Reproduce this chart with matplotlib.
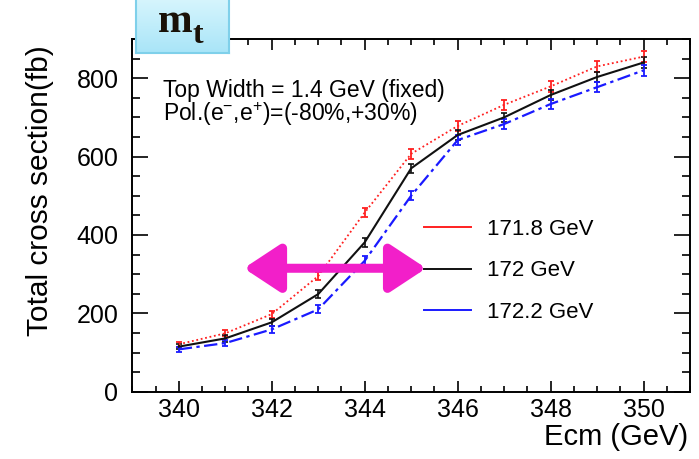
import matplotlib
matplotlib.use("Agg")
import matplotlib.pyplot as plt
import numpy as np
from matplotlib.lines import Line2D
from matplotlib.patches import FancyArrowPatch
from matplotlib.ticker import MultipleLocator
from matplotlib.colors import LinearSegmentedColormap

plt.rcParams["font.family"] = ["Liberation Sans", "DejaVu Sans"]
plt.rcParams["mathtext.fontset"] = "custom"
plt.rcParams["mathtext.rm"] = "Liberation Sans"
plt.rcParams["mathtext.it"] = "Liberation Sans:italic"
plt.rcParams["mathtext.bf"] = "Liberation Sans:bold"

# Centre-of-mass energy scan points (GeV)
ecm = [340, 341, 342, 343, 344, 345, 346, 347, 348, 349, 350]

# Total cross sections (fb) for three top-mass hypotheses
xs_1718 = [121, 149, 198, 295, 457, 607, 678, 732, 779, 830, 855]
xs_1720 = [115, 136, 177, 249, 381, 570, 655, 700, 757, 803, 840]
xs_1722 = [108, 124, 159, 210, 334, 500, 642, 683, 734, 777, 820]

# Statistical uncertainties (fb)
err_1718 = [7, 8, 9, 10, 11, 12, 12, 12, 13, 13, 14]
err_1720 = [7, 8, 9, 10, 11, 12, 12, 12, 13, 13, 14]
err_1722 = [7, 8, 9, 10, 11, 12, 12, 12, 13, 13, 14]

labels = ["171.8 GeV", "172 GeV", "172.2 GeV"]

W, H = 699, 459
fig = plt.figure(figsize=(W / 100, H / 100), dpi=100)
ax = fig.add_axes([132.3 / W, 1 - 391.7 / H, (690 - 132.3) / W, (391.7 - 39) / H])

ax.errorbar(ecm, xs_1718, yerr=err_1718, color="#ff2020", lw=1.3, ls=(0, (1, 1.5)),
            elinewidth=1.3, capsize=2, capthick=1.3)
ax.errorbar(ecm, xs_1720, yerr=err_1720, color="#111111", lw=1.5, ls="-",
            elinewidth=1.2, capsize=2, capthick=1.2)
ax.errorbar(ecm, xs_1722, yerr=err_1722, color="#1a1aff", lw=1.6, ls=(0, (6, 2, 1.5, 2)),
            elinewidth=1.3, capsize=2, capthick=1.3)

ax.set_xlim(339, 351)
ax.set_ylim(0, 900)
ax.xaxis.set_major_locator(MultipleLocator(2))
ax.xaxis.set_minor_locator(MultipleLocator(0.5))
ax.yaxis.set_major_locator(MultipleLocator(200))
ax.yaxis.set_minor_locator(MultipleLocator(50))

for s in ax.spines.values():
    s.set_linewidth(1.4)
ax.tick_params(axis="both", which="both", direction="in", top=True, right=True,
               width=1.2, labelsize=18)
ax.tick_params(axis="x", which="major", length=8, pad=4.5)
ax.tick_params(axis="x", which="minor", length=4.3)
ax.tick_params(axis="y", which="major", length=11.5, pad=10)
ax.tick_params(axis="y", which="minor", length=5.8)

ax.set_xlabel("Ecm (GeV)", fontsize=21, loc="right")
ax.xaxis.set_label_coords((688 - 132.3) / 557.7, -0.09)
ax.set_ylabel("Total cross section(fb)", fontsize=21.5, loc="top", va="baseline")
ax.yaxis.set_label_coords((48 - 132.3) / 557.7, (391.7 - 45) / 352.7)

fig.text(162.7 / W, 1 - 96.7 / H, "Top Width = 1.4 GeV (fixed)", fontsize=16.5,
         va="baseline", ha="left")
fig.text(162.7 / W, 1 - 120.7 / H, r"Pol.(e$^{-}$,e$^{+}$)=(-80%,+30%)", fontsize=16.5,
         va="baseline", ha="left")

handles = [Line2D([], [], color="#ff2020", lw=1.4),
           Line2D([], [], color="#111111", lw=1.4),
           Line2D([], [], color="#1a1aff", lw=1.4)]
ax.legend(handles, labels, loc="upper left", bbox_to_anchor=(424 / W, 1 - 219 / H),
          bbox_transform=fig.transFigure, frameon=False, fontsize=16,
          handlelength=2.1, handletextpad=0.75, labelspacing=0.92,
          borderpad=0, borderaxespad=0)

# Double-headed arrow marking the mass shift
arrow = FancyArrowPatch((0.195, 0.35), (0.532, 0.35), transform=ax.transAxes,
                        arrowstyle="<|-|>,head_length=2.2,head_width=1.45",
                        color="#f21fc9", lw=6.5, joinstyle="round", capstyle="round",
                        mutation_scale=10, zorder=5)
ax.add_patch(arrow)

# Title tag box with gradient fill
tag = fig.add_axes([136 / W, 1 - 52.7 / H, (229 - 136) / W, 54 / H])
grad = np.linspace(0, 1, 64).reshape(-1, 1)
cmap = LinearSegmentedColormap.from_list("tag", ["#d6f5fd", "#a9e5f8"])
tag.imshow(grad, aspect="auto", cmap=cmap, extent=(0, 1, 0, 1), origin="upper")
tag.set_xticks([])
tag.set_yticks([])
for s in tag.spines.values():
    s.set_color("#7fd0ea")
    s.set_linewidth(1.5)
fig.text(158 / W, 1 - 32 / H, "m", fontsize=30, fontweight="bold",
         family="Liberation Serif", va="baseline", ha="left", color="#1a1208")
fig.text(192.5 / W, 1 - 43 / H, "t", fontsize=23, fontweight="bold",
         family="Liberation Serif", va="baseline", ha="left", color="#1a1208")

fig.savefig("out.png", dpi=100)
